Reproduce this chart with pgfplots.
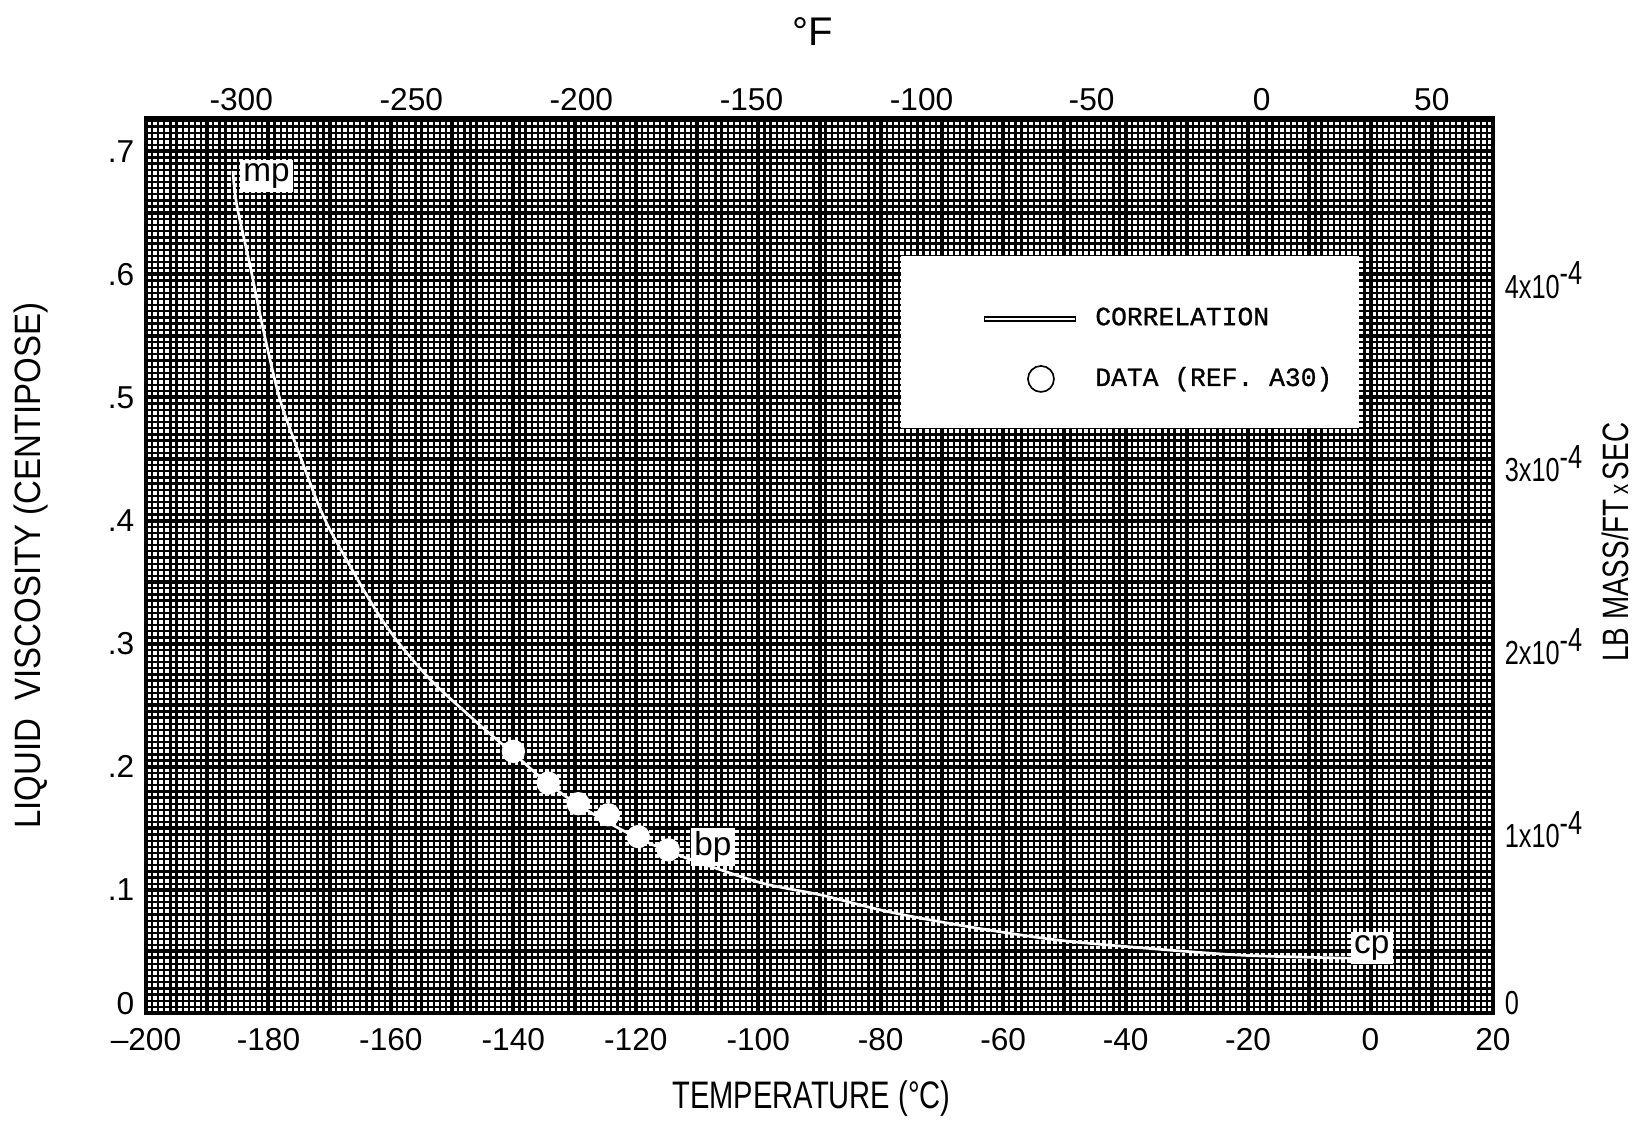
\documentclass[border=0pt]{standalone}
\usepackage{fontspec}
\setmainfont{Liberation Sans}
\newfontfamily\narrowfont{Liberation Sans}[FakeStretch=0.76]
\newfontfamily\midfont{Liberation Sans}[FakeStretch=0.9]
\newfontfamily\typew{Liberation Mono}[FakeBold=1.0]
\usepackage{pgfplots}
\pgfplotsset{compat=1.18}

\begin{document}
\begin{tikzpicture}
% ---------------- main axis (deg C, centipoise) ----------------
\begin{axis}[
  at={(0,0)}, anchor=south west,
  scale only axis, width=404.1pt, height=268.5pt,
  xmin=-200, xmax=20, ymin=0, ymax=0.727,
  xtick={-200,-180,-160,-140,-120,-100,-80,-60,-40,-20,0,20},
  xticklabels={--200,-180,-160,-140,-120,-100,-80,-60,-40,-20,0,20},
  ytick={0,0.1,0.2,0.3,0.4,0.5,0.6,0.7},
  yticklabels={\raisebox{6pt}{0},.1,.2,.3,.4,.5,.6,.7},
  minor xtick={-200,-199,...,20},
  minor ytick={0,0.005,...,0.7251},
  extra x ticks={-190,-170,-150,-130,-110,-90,-70,-50,-30,-10,10},
  extra x tick labels={},
  extra y ticks={0.05,0.15,0.25,0.35,0.45,0.55,0.65},
  extra y tick labels={},
  extra x tick style={grid=major},
  extra y tick style={grid=major},
  grid=both,
  major grid style={black, line width=1.2pt},
  minor grid style={black, line width=0.68pt},
  major tick length=0pt, minor tick length=0pt,
  axis line style={black, line width=1.2pt},
  tick label style={font=\fontsize{9.5}{10}\selectfont},
  xticklabel style={yshift=-1pt},
  xlabel={TEMPERATURE (°C)},
  xlabel style={at={(axis description cs:0.494,-0.096)}, anchor=center,
                font=\narrowfont\fontsize{11.5}{12}\selectfont},
  ylabel={LIQUID\ \ VISCOSITY (CENTIPOSE)},
  ylabel style={at={(axis description cs:-0.0854,0.5)}, anchor=center,
                font=\midfont\fontsize{11}{12}\selectfont},
  legend style={at={(axis description cs:0.560,0.847)}, anchor=north west,
                draw=none, fill=white, inner xsep=8.1pt, inner ysep=10pt,
                row sep=9pt, font=\typew\fontsize{7.9}{9}\selectfont,
                nodes={inner xsep=0pt, inner ysep=1pt},
                /tikz/every odd column/.append style={column sep=5pt}},
  legend cell align=left,
]
\addplot[draw=white, line width=0.8pt, smooth, tension=0.5,
  legend image code/.code={%
    \path[draw=none, fill=none] (-16.8pt,-3pt) rectangle (27.6pt,9pt);
    \draw[black, line width=1.6pt] (0pt,0pt) -- (27.6pt,0pt);
    \draw[white, line width=0.6pt] (0.4pt,0pt) -- (27.2pt,0pt);}]
coordinates {
(-185.8,0.684) (-185.2,0.657) (-183.0,0.607) (-180.8,0.554) (-178.1,0.498)
(-174.8,0.452) (-172.0,0.415) (-170.0,0.393) (-167.0,0.366) (-164.5,0.344)
(-161.8,0.322) (-159.1,0.303) (-156.3,0.286) (-153.6,0.271) (-150.9,0.258)
(-148.2,0.246) (-145.5,0.234) (-142.7,0.222) (-140.0,0.211) (-135.0,0.189)
(-130.0,0.171) (-125.0,0.156) (-120.0,0.143) (-115.0,0.132) (-109.5,0.122)
(-99.3,0.1054) (-89.8,0.0959) (-78.9,0.0824) (-65.8,0.0702) (-51.2,0.0593)
(-36.6,0.0526) (-22.0,0.0472) (-12.0,0.0455) (-3.1,0.0445)
};
\addlegendentry{CORRELATION}
\addplot[only marks, mark=*, mark size=3.3pt, mark options={fill=white, draw=white},
  legend image code/.code={%
    \path[draw=none, fill=none] (-16.8pt,-4pt) rectangle (27.6pt,4pt);
    \draw[black, fill=white, line width=0.5pt] (17.1pt,0pt) circle (3.9pt);}]
coordinates {
(-140.0,0.2125) (-134.3,0.1867) (-129.4,0.170) (-124.5,0.161) (-119.6,0.1433) (-114.7,0.1325)
};
\addlegendentry{DATA (REF. A30)}
\node[fill=white, inner sep=1pt, font=\fontsize{10}{10}\selectfont] at (axis cs:-180.3,0.680) {mp};
\node[fill=white, inner sep=1pt, font=\fontsize{10}{10}\selectfont] at (axis cs:-107.4,0.135) {bp};
\node[fill=white, inner sep=1pt, font=\fontsize{10}{10}\selectfont] at (axis cs:0.2,0.053) {cp};
\end{axis}

% ---------------- top axis (deg F) ----------------
\begin{axis}[
  at={(0,0)}, anchor=south west,
  scale only axis, width=404.1pt, height=268.5pt,
  xmin=-328, xmax=68, ymin=0, ymax=1,
  axis x line*=top, axis y line=none,
  xtick={-300,-250,-200,-150,-100,-50,0,50},
  xticklabels={-300,-250,-200,-150,-100,-50,0,50},
  major tick length=0pt, minor tick length=0pt,
  axis line style={black, line width=1.2pt},
  tick label style={font=\fontsize{9.5}{10}\selectfont},
  xticklabel style={yshift=-1.5pt},
  xlabel={°F},
  xlabel style={at={(axis description cs:0.495,1.097)}, anchor=center,
                font=\fontsize{12}{12}\selectfont},
]
\end{axis}

% ---------------- right axis (lb mass / ft x sec) ----------------
\begin{axis}[
  at={(0,0)}, anchor=south west,
  scale only axis, width=404.1pt, height=268.5pt,
  xmin=-200, xmax=20, ymin=0, ymax=4.885,
  axis y line*=right, axis x line=none,
  ytick={0,1,2,3,4},
  yticklabels={\raisebox{6pt}{0},1x10\raisebox{0.75ex}{-4},2x10\raisebox{0.75ex}{-4},3x10\raisebox{0.75ex}{-4},4x10\raisebox{0.75ex}{-4}},
  major tick length=0pt, minor tick length=0pt,
  axis line style={black, line width=1.2pt},
  tick label style={font=\narrowfont\fontsize{10}{10}\selectfont},
  ylabel={LB MASS/FT{\fontsize{8}{8}\selectfont\,x\,}SEC},
  ylabel style={at={(axis description cs:1.0906,0.526)}, anchor=center,
                font=\narrowfont\fontsize{11}{12}\selectfont},
]
\end{axis}

\pgfresetboundingbox
\path (-43.8pt,-32.7pt) rectangle (446.4pt,303.9pt);
\end{tikzpicture}
\end{document}
